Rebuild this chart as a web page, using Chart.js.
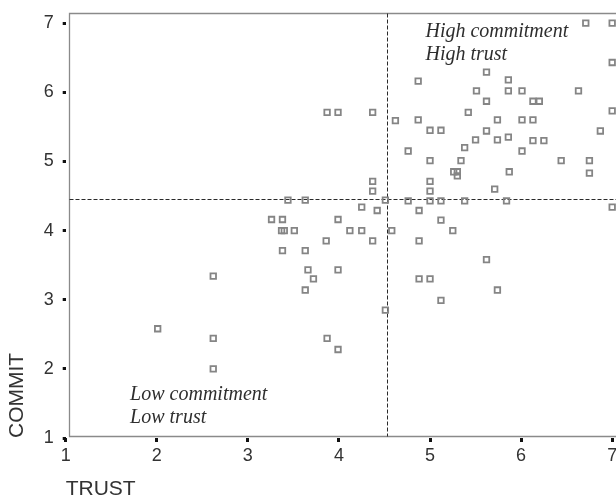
<!DOCTYPE html>
<html><head><meta charset="utf-8">
<script src="https://cdn.jsdelivr.net/npm/chart.js@4"></script>
<style>
html,body{margin:0;padding:0;background:#fff;overflow:hidden;width:616px;height:501px}
#clip{width:616px;height:501px;overflow:hidden;position:relative;background:#fff}
#wrap{width:632px;height:501px;position:absolute;left:0;top:0}
</style></head><body>
<div id="clip"><div id="wrap"><canvas id="c" width="632" height="501"></canvas></div></div>
<script>
// ---- data ----
const trust = [
  6.71, 7.00, 7.00, 5.62, 4.87, 5.86, 5.51, 5.86, 6.01, 6.63,
  5.62, 6.13, 6.20, 7.00, 5.42, 4.62, 4.87, 5.74, 6.01, 6.13,
  5.00, 5.12, 5.62, 6.87, 5.50, 5.74, 5.86, 6.13, 6.25, 5.38,
  4.76, 6.01, 5.00, 5.34, 6.44, 6.75, 5.26, 5.30, 5.30, 5.87,
  6.75, 5.00, 5.00, 5.71, 4.76, 5.00, 5.12, 5.38, 5.84, 7.00,
  4.88, 5.12, 5.25, 4.88, 5.62, 4.88, 5.00, 5.74, 5.12,
  3.87, 3.99, 4.37, 4.37, 4.37, 3.44, 3.63, 4.51, 4.25, 4.42,
  3.26, 3.38, 3.99, 3.37, 3.40, 3.51, 4.12, 4.25, 4.58, 3.86,
  4.37, 3.38, 3.63, 3.66, 3.99, 3.72, 3.63, 2.62, 4.51, 2.01,
  2.62, 3.87, 3.99, 2.62
];
const commit = [
  7.00, 7.00, 6.43, 6.29, 6.16, 6.18, 6.02, 6.02, 6.02, 6.02,
  5.87, 5.87, 5.87, 5.73, 5.71, 5.59, 5.60, 5.60, 5.60, 5.60,
  5.45, 5.45, 5.44, 5.44, 5.31, 5.31, 5.35, 5.30, 5.30, 5.20,
  5.15, 5.15, 5.01, 5.01, 5.01, 5.01, 4.85, 4.85, 4.79, 4.85,
  4.83, 4.71, 4.57, 4.60, 4.43, 4.43, 4.43, 4.43, 4.43, 4.34,
  4.29, 4.15, 4.00, 3.85, 3.58, 3.30, 3.30, 3.14, 2.99,
  5.71, 5.71, 5.71, 4.71, 4.57, 4.44, 4.44, 4.44, 4.34, 4.29,
  4.16, 4.16, 4.16, 4.00, 4.00, 4.00, 4.00, 4.00, 4.00, 3.85,
  3.85, 3.71, 3.71, 3.43, 3.43, 3.30, 3.14, 3.34, 2.85, 2.58,
  2.44, 2.44, 2.28, 2.00
];
const xTicks = [1, 2, 3, 4, 5, 6, 7];
const yTicks = [1, 2, 3, 4, 5, 6, 7];
const trustMean = 4.53;
const commitMean = 4.46;
const xTitle = 'TRUST';
const yTitle = 'COMMIT';
const highNote = ['High commitment', 'High trust'];
const lowNote = ['Low commitment', 'Low trust'];

// ---- drawing ----
const frame = {
  id: 'frame',
  beforeDatasetsDraw(chart) {
    const {ctx, chartArea: a, scales: {x, y}} = chart;
    const L = Math.round(a.left + 3) + 0.5, B = Math.round(a.bottom - 2) + 0.5, T = Math.round(a.top) + 0.5, R = a.right + 5;
    ctx.save();
    ctx.strokeStyle = '#8a8a8a';
    ctx.lineWidth = 1.3;
    ctx.beginPath();
    ctx.moveTo(R, T); ctx.lineTo(L, T); ctx.lineTo(L, B); ctx.lineTo(R, B);
    ctx.stroke();
    ctx.strokeStyle = '#2a2a2a';
    ctx.lineWidth = 1;
    ctx.setLineDash([4, 2]);
    const vx = Math.round(x.getPixelForValue(trustMean)) + 0.5;
    ctx.beginPath(); ctx.moveTo(vx, T); ctx.lineTo(vx, B); ctx.stroke();
    const hy = Math.round(y.getPixelForValue(commitMean)) + 0.5;
    ctx.beginPath(); ctx.moveTo(L, hy); ctx.lineTo(R, hy); ctx.stroke();
    ctx.restore();
  },
  afterDatasetsDraw(chart) {
    const {ctx, scales: {x, y}} = chart;
    ctx.save();
    ctx.fillStyle = '#2e2e2e';
    ctx.font = 'italic 20px "Liberation Serif", "Times New Roman", serif';
    ctx.textAlign = 'left';
    ctx.textBaseline = 'alphabetic';
    const put = (lines, xv, yv) => {
      const px = x.getPixelForValue(xv), py = y.getPixelForValue(yv);
      lines.forEach((t, i) => ctx.fillText(t, px, py + i * 23.3));
    };
    put(highNote, 4.95, 6.80);
    put(lowNote, 1.707, 1.55);
    ctx.restore();
  }
};

const tickFont = {family: '"Liberation Sans", Arial, sans-serif', size: 18};
const titleFont = {family: '"Liberation Sans", Arial, sans-serif', size: 21, lineHeight: 1};

new Chart(document.getElementById('c'), {
  type: 'scatter',
  data: {
    datasets: [{
      data: trust.map((t, i) => ({x: t, y: commit[i]})),
      pointStyle: 'rect',
      pointRadius: 3.9,
      pointHoverRadius: 3.9,
      borderWidth: 1.8,
      borderColor: '#858585',
      backgroundColor: 'rgba(0,0,0,0)'
    }]
  },
  options: {
    responsive: false,
    animation: false,
    events: [],
    layout: {padding: {top: 13, right: 2, left: 0, bottom: 0}},
    plugins: {legend: {display: false}, tooltip: {enabled: false}},
    scales: {
      x: {
        type: 'linear', min: 1, max: 7.155,
        afterBuildTicks: s => { s.ticks = xTicks.map(v => ({value: v})); },
        afterFit: s => { s.height = 63; s.paddingLeft = 0; s.paddingRight = 0; },
        ticks: {font: tickFont, color: '#333', padding: 3, maxRotation: 0, autoSkip: false},
        grid: {drawOnChartArea: false, drawTicks: true, tickLength: 4, lineWidth: 3, color: '#111'},
        border: {display: false},
        title: {display: true, text: xTitle, align: 'start', font: titleFont, color: '#333', padding: {top: 0, bottom: 1}}
      },
      y: {
        type: 'linear', min: 1, max: 7.146,
        afterBuildTicks: s => { s.ticks = yTicks.map(v => ({value: v})); },
        afterFit: s => { s.width = 65.7; s.paddingTop = 0; s.paddingBottom = 0; },
        ticks: {font: tickFont, color: '#333', padding: 9, autoSkip: false},
        grid: {drawOnChartArea: false, drawTicks: true, tickLength: 3, lineWidth: 3, color: '#111'},
        border: {display: false},
        title: {display: true, text: yTitle, align: 'start', font: titleFont, color: '#333', padding: {top: 7, bottom: 0}}
      }
    }
  },
  plugins: [frame]
});
</script>
</body></html>
